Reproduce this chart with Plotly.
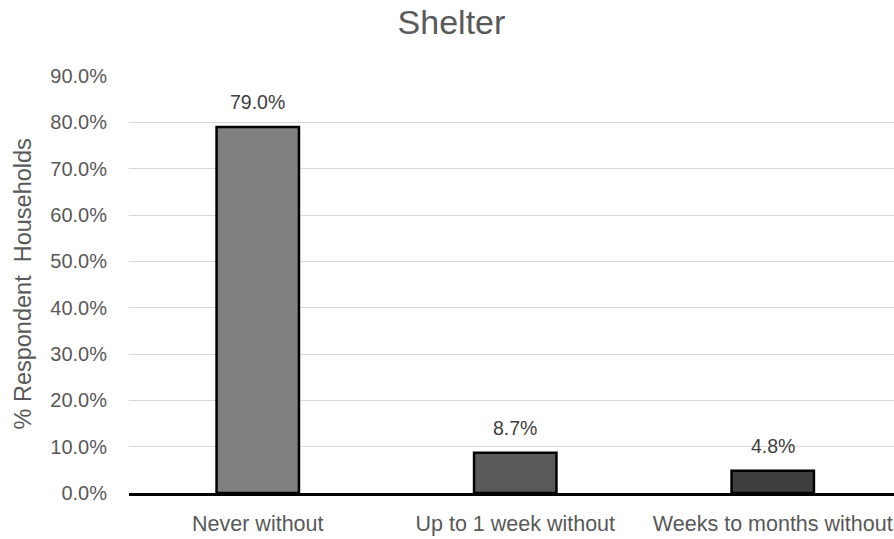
import plotly.graph_objects as go

categories = ["Never without", "Up to 1 week without", "Weeks to months without"]
values = [0.790, 0.087, 0.048]
bar_colors = ["#7f7f7f", "#595959", "#3f3f3f"]
y_ticks = [0.0, 0.1, 0.2, 0.3, 0.4, 0.5, 0.6, 0.7, 0.8, 0.9]

W, H = 894, 539
left, right, top, bottom = 129, 0, 76, 46
FONT = "Liberation Sans, Arial, sans-serif"

fig = go.Figure(
    go.Bar(
        x=categories,
        y=values,
        marker=dict(color=bar_colors, line=dict(color="#000000", width=2.5)),
        width=0.32,
        cliponaxis=False,
    )
)

# value labels above each bar
for cat, v in zip(categories, values):
    fig.add_annotation(
        x=cat,
        y=v,
        text=f"{v:.1%}",
        showarrow=False,
        xanchor="center",
        yanchor="bottom",
        yshift=12,
        font=dict(family=FONT, size=19.5, color="#404040"),
    )

fig.update_layout(
    width=W,
    height=H,
    margin=dict(l=left, r=right, t=top, b=bottom),
    plot_bgcolor="white",
    paper_bgcolor="white",
    showlegend=False,
    title=dict(
        text="Shelter",
        x=0.505,
        xanchor="center",
        y=1 - 22 / H,
        yanchor="middle",
        font=dict(family=FONT, size=34, color="#595959"),
    ),
    font=dict(family=FONT, color="#595959"),
)

fig.update_xaxes(
    range=[-0.5, -0.5 + (W - left) / 257.5],
    showline=True,
    linecolor="#000000",
    linewidth=3,
    showgrid=False,
    ticks="outside",
    ticklen=0,
    ticklabelstandoff=9,
    tickfont=dict(family=FONT, size=21.5, color="#595959"),
)

fig.update_yaxes(
    range=[0, 0.9],
    tickvals=y_ticks,
    tickformat=".1%",
    showgrid=True,
    gridcolor="#d9d9d9",
    gridwidth=1,
    zeroline=False,
    showline=False,
    ticks="outside",
    ticklen=0,
    ticklabelstandoff=17,
    tickfont=dict(family=FONT, size=20, color="#595959"),
)

fig.add_annotation(
    text="% Respondent  Households",
    textangle=-90,
    xref="paper",
    yref="paper",
    x=(22 - left) / (W - left),
    y=0.5,
    xanchor="center",
    yanchor="middle",
    showarrow=False,
    font=dict(family=FONT, size=23.5, color="#595959"),
)

fig.write_html("out.html")
